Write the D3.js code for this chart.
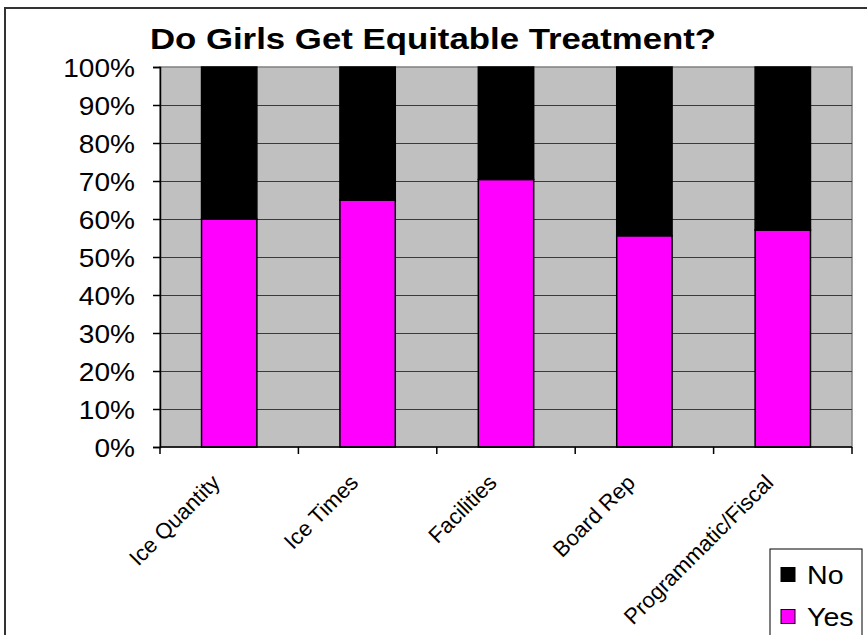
<!DOCTYPE html>
<html>
<head>
<meta charset="utf-8">
<script src="https://cdn.jsdelivr.net/npm/d3@7/dist/d3.min.js"></script>
<style>
  html, body { margin: 0; padding: 0; background: #fff; }
  svg { display: block; font-family: Arial, "Liberation Sans", sans-serif; }
</style>
</head>
<body>
<svg id="chart" width="867" height="635"></svg>
<script>
// Survey answers per topic, as shares of respondents
const categories = ["Ice Quantity", "Ice Times", "Facilities", "Board Rep", "Programmatic/Fiscal"];
const yesValues = [0.60, 0.65, 0.704, 0.556, 0.571];
const noValues = yesValues.map(v => 1 - v);
const seriesNames = ["Yes", "No"];
const seriesColors = ["#FF00FF", "#000000"];
const yTicks = [0, 0.1, 0.2, 0.3, 0.4, 0.5, 0.6, 0.7, 0.8, 0.9, 1.0];
const titleText = "Do Girls Get Equitable Treatment?";

const svg = d3.select("#chart");
const plot = { left: 160, top: 67, right: 852, bottom: 447 };
const stretchX = 1.1; // text in this chart is set slightly wide

// Outer chart frame (right and bottom edges run off the canvas)
svg.append("rect")
  .attr("x", 5).attr("y", 8).attr("width", 870).attr("height", 640)
  .attr("fill", "#fff").attr("stroke", "#333").attr("stroke-width", 2);

// Title
svg.append("text")
  .attr("transform", `translate(433,49) scale(1.16,1)`)
  .attr("text-anchor", "middle")
  .attr("font-weight", "bold").attr("font-size", 30)
  .text(titleText);

const x = d3.scaleBand().domain(categories).range([plot.left, plot.right]);
const y = d3.scaleLinear().domain([0, 1]).range([plot.bottom, plot.top]);

// Plot area background
svg.append("rect")
  .attr("x", plot.left).attr("y", plot.top)
  .attr("width", plot.right - plot.left).attr("height", plot.bottom - plot.top)
  .attr("fill", "#C0C0C0").attr("stroke", "#808080").attr("stroke-width", 1.5);

// Horizontal gridlines
svg.append("g").selectAll("line").data(yTicks.filter(t => t > 0 && t < 1)).join("line")
  .attr("x1", plot.left).attr("x2", plot.right)
  .attr("y1", d => Math.round(y(d)) + 0.5).attr("y2", d => Math.round(y(d)) + 0.5)
  .attr("stroke", "#3a3a3a").attr("stroke-width", 1);

// Stacked bars
const stackData = categories.map((c, i) => ({ cat: c, Yes: yesValues[i], No: noValues[i] }));
const stacked = d3.stack().keys(seriesNames)(stackData);
const barW = x.bandwidth() * 0.4;
svg.append("g").selectAll("g").data(stacked).join("g")
  .attr("fill", (d, i) => seriesColors[i])
  .selectAll("rect").data(d => d).join("rect")
  .attr("x", d => x(d.data.cat) + (x.bandwidth() - barW) / 2)
  .attr("y", d => y(d[1]))
  .attr("width", barW)
  .attr("height", d => y(d[0]) - y(d[1]))
  .attr("stroke", "#000").attr("stroke-width", 1.5);

// Y axis
const yAxis = d3.axisLeft(y).tickValues(yTicks).tickFormat(d3.format(".0%"))
  .tickSize(7).tickPadding(18);
const gy = svg.append("g").attr("transform", `translate(${plot.left},0)`).call(yAxis);
gy.select(".domain").attr("stroke", "#000").attr("stroke-width", 1.5);
gy.selectAll(".tick line").attr("stroke", "#000").attr("stroke-width", 1.5);
gy.selectAll(".tick text")
  .attr("font-size", 25.5).attr("fill", "#000")
  .attr("font-family", "Arial, 'Liberation Sans', sans-serif")
  .attr("x", null).attr("dy", null)
  .attr("transform", `translate(-25,9) scale(${stretchX},1)`);

// X axis: ticks on category boundaries
const boundaries = categories.map(c => x(c)).concat([plot.right]);
const gx = svg.append("g");
gx.append("line")
  .attr("x1", plot.left).attr("x2", plot.right)
  .attr("y1", plot.bottom).attr("y2", plot.bottom)
  .attr("stroke", "#000").attr("stroke-width", 1.5);
gx.selectAll("line.tk").data(boundaries).join("line").attr("class", "tk")
  .attr("x1", d => d).attr("x2", d => d)
  .attr("y1", plot.bottom).attr("y2", plot.bottom + 7)
  .attr("stroke", "#000").attr("stroke-width", 1.5);

// Rotated category labels
gx.selectAll("text").data(categories).join("text")
  .attr("transform", d => `translate(${x(d) + x.bandwidth() / 2 - 8},${plot.bottom + 37}) rotate(-45)`)
  .attr("text-anchor", "end")
  .attr("font-size", 22)
  .text(d => d);

// Legend
const lg = svg.append("g");
lg.append("rect")
  .attr("x", 770).attr("y", 549).attr("width", 92).attr("height", 100)
  .attr("fill", "#fff").attr("stroke", "#000").attr("stroke-width", 1);
const legendItems = [
  { name: "No", color: seriesColors[1], cy: 575 },
  { name: "Yes", color: seriesColors[0], cy: 617 }
];
legendItems.forEach(it => {
  lg.append("rect")
    .attr("x", 781).attr("y", it.cy - 7.5).attr("width", 14).attr("height", 14)
    .attr("fill", it.color).attr("stroke", "#000").attr("stroke-width", 1);
  lg.append("text")
    .attr("transform", `translate(807,${it.cy + 9}) scale(${stretchX},1)`)
    .attr("font-size", 26)
    .text(it.name);
});
</script>
</body>
</html>
